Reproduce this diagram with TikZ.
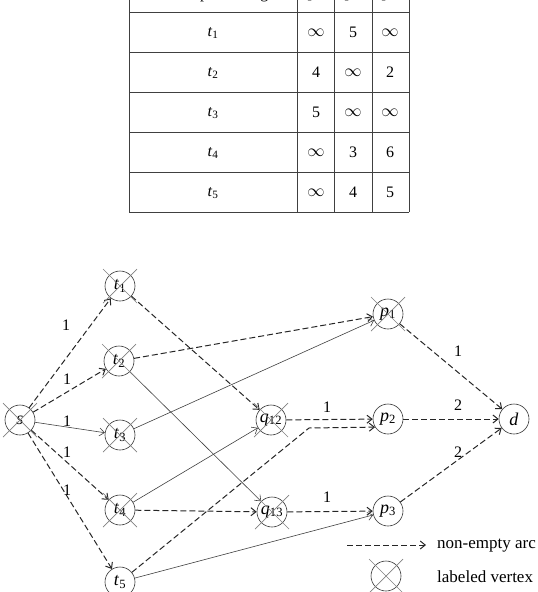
\documentclass[tikz,border=0pt]{standalone}
\usepackage{fontspec}
\setmainfont{Liberation Serif}
\usetikzlibrary{arrows.meta,calc}
\newcommand\nm[2]{\textit{#1}\textsubscript{#2}}
\newcommand\crossmk[1]{\draw[crossln] ($(#1)+(-17,-17)$) -- ($(#1)+(17,17)$) ($(#1)+(-17,17)$) -- ($(#1)+(17,-17)$);}
\begin{document}
\begin{tikzpicture}[x=1pt,y=-1pt,
  vtx/.style={circle,draw=black!80,minimum size=30pt,inner sep=0pt,line width=0.6pt,font=\fontsize{18}{20}\selectfont},
  lbl/.style={font=\fontsize{16}{18}\selectfont,inner sep=0pt},
  tbl/.style={font=\fontsize{16}{18}\selectfont,inner sep=0pt},
  crossln/.style={draw=black!50,line width=0.7pt},
  darc/.style={draw=black!85,line width=1pt,dash pattern=on 6pt off 3pt,-{Straight Barb[length=5pt,width=8pt]}},
  sarc/.style={draw=black!75,line width=0.6pt,-{Straight Barb[length=5pt,width=8pt]}},
  tline/.style={draw=black!75,line width=0.9pt}
]
\useasboundingbox (0,0) rectangle (538,592);
\clip (0,0) rectangle (538,592);
% ---------- table ----------
\foreach \yy in {12,52,92,132,172,212} \draw[tline] (129,\yy) -- (409,\yy);
\foreach \xx in {129,297,334,372,409} \draw[tline] (\xx,-40) -- (\xx,212);
\node[tbl] (h0) at (213,-5) {Task / processing};
\node[tbl] (h1) at (316,-5) {\nm{p}{1}};
\node[tbl] (h2) at (353,-5) {\nm{p}{2}};
\node[tbl] (h3) at (390,-5) {\nm{p}{3}};
\node[tbl] (r1) at (213,33) {\nm{t}{1}};
\node[tbl] (r2) at (213,73) {\nm{t}{2}};
\node[tbl] (r3) at (213,113) {\nm{t}{3}};
\node[tbl] (r4) at (213,153) {\nm{t}{4}};
\node[tbl] (r5) at (213,193) {\nm{t}{5}};
\node[tbl] (c11) at (316,33) {$\infty$};
\node[tbl] (c12) at (353,32) {5};
\node[tbl] (c13) at (390,33) {$\infty$};
\node[tbl] (c21) at (316,72) {4};
\node[tbl] (c22) at (353,73) {$\infty$};
\node[tbl] (c23) at (390,72) {2};
\node[tbl] (c31) at (316,112) {5};
\node[tbl] (c32) at (353,113) {$\infty$};
\node[tbl] (c33) at (390,113) {$\infty$};
\node[tbl] (c41) at (316,153) {$\infty$};
\node[tbl] (c42) at (353,152) {3};
\node[tbl] (c43) at (390,152) {6};
\node[tbl] (c51) at (316,193) {$\infty$};
\node[tbl] (c52) at (353,192) {4};
\node[tbl] (c53) at (390,192) {5};
% ---------- graph nodes ----------
\node[vtx] (s) at (20,420) {\textit{s}};
\node[vtx] (t1) at (120,286) {\nm{t}{1}};
\node[vtx] (t2) at (119,361) {\nm{t}{2}};
\node[vtx] (t3) at (120,435) {\nm{t}{3}};
\node[vtx] (t4) at (120,510) {\nm{t}{4}};
\node[vtx] (t5) at (120,582) {\nm{t}{5}};
\node[vtx] (q12) at (271,420) {\nm{q}{12}};
\node[vtx] (q13) at (272,512) {\nm{q}{13}};
\node[vtx] (p1) at (388,314) {\nm{p}{1}};
\node[vtx] (p2) at (388,419) {\nm{p}{2}};
\node[vtx] (p3) at (388,511) {\nm{p}{3}};
\node[vtx] (d) at (514,419) {\textit{d}};
\coordinate (bend) at (309,428);
% ---------- arcs ----------
\draw[darc] (s) -- (t1);
\draw[darc] (s) -- (t2);
\draw[sarc] (s) -- (t3);
\draw[darc] (s) -- (t4);
\draw[darc] (s) -- (t5);
\draw[darc] (t1) -- (q12);
\draw[darc] (t2) -- (p1);
\draw[sarc] (t2) -- (q13);
\draw[sarc] (t3) -- (p1);
\draw[sarc] (t4) -- (q12);
\draw[darc] (t4) -- (q13);
\draw[darc] (t5) -- (bend) -- (p2.212);
\draw[sarc] (t5) -- (p3);
\draw[darc] (q12) -- (p2);
\draw[darc] (q13) -- (p3);
\draw[darc] (p1) -- (d);
\draw[darc] (p2) -- (d);
\draw[darc] (p3) -- (d);
% ---------- arc labels ----------
\node[lbl] (l1) at (66,325) {1};
\node[lbl] (l2) at (67,379) {1};
\node[lbl] (l3) at (67,421) {1};
\node[lbl] (l4) at (67,452) {1};
\node[lbl] (l5) at (67,490) {1};
\node[lbl] (l6) at (327,407) {1};
\node[lbl] (l7) at (327,497) {1};
\node[lbl] (l8) at (458,351) {1};
\node[lbl] (l9) at (458,405) {2};
\node[lbl] (l10) at (458,452) {2};
% ---------- crosses ----------
\crossmk{s}\crossmk{t1}\crossmk{t2}\crossmk{t3}\crossmk{t4}
\crossmk{q12}\crossmk{q13}\crossmk{p1}
% ---------- legend ----------
\coordinate (la) at (347,545);
\coordinate (lb) at (426,545);
\draw[darc] (la) -- (lb);
\node[lbl,anchor=west,font=\fontsize{17}{19}\selectfont] (lt1) at (437,546) {non-empty arc};
\node[vtx] (lv) at (386,576) {};
\crossmk{lv}
\node[lbl,anchor=west,font=\fontsize{17}{19}\selectfont] (lt2) at (437,577) {labeled vertex};
\end{tikzpicture}
\end{document}
